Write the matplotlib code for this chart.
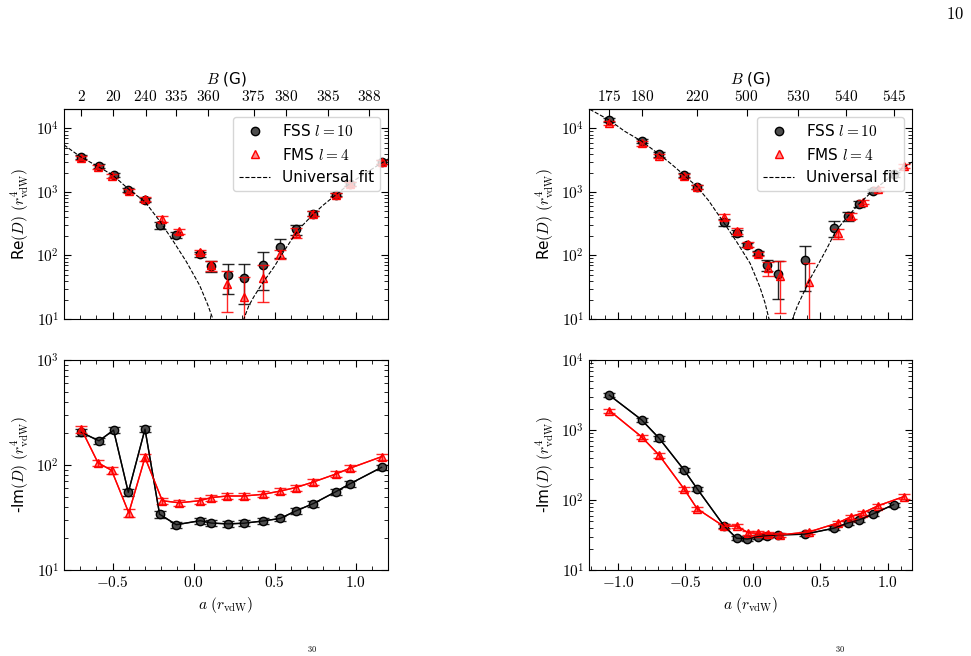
import numpy as np
import matplotlib
matplotlib.use('Agg')
import matplotlib.pyplot as plt
from matplotlib.ticker import FuncFormatter, NullFormatter, LogLocator, MultipleLocator
from matplotlib.lines import Line2D

plt.rcParams['font.family'] = ['DejaVu Sans']
plt.rcParams['mathtext.fontset'] = 'cm'
plt.rcParams['font.size'] = 11

# ---- left column (B = 2 ... 388 G) ----
left_a_fss = [-0.693, -0.584, -0.494, -0.403, -0.30, -0.21, -0.107, 0.041, 0.109, 0.212,
              0.31, 0.428, 0.535, 0.63, 0.74, 0.877, 0.963, 1.16]
left_a_fms = [-0.693, -0.59, -0.506, -0.40, -0.30, -0.193, -0.09, 0.037, 0.109, 0.208,
              0.31, 0.428, 0.535, 0.63, 0.74, 0.877, 0.963, 1.16]
left_re_fss = [3500, 2550, 1850, 1080, 760, 300, 210, 104, 69, 49, 45, 71, 137, 258, 457, 910, 1350, 3000]
left_re_fss_err = [250, 180, 130, 80, 55, 35, 22, 8, 14, 24, 28, 42, 45, 45, 40, 60, 90, 200]
left_re_fms = [3400, 2500, 1800, 1050, 770, 380, 240, 115, 70, 35, 22.4, 44.7, 106, 228, 455, 900, 1330, 2950]
left_re_fms_err = [250, 180, 130, 80, 55, 40, 22, 8, 13, 22, 23, 26, 18, 40, 40, 60, 90, 200]
left_im_fss = [205, 170, 215, 55, 220, 34, 27, 29.5, 28, 27.5, 27.9, 29.3, 31, 36.5, 43, 55.6, 66, 95]
left_im_fss_err = [14, 10, 13, 4, 14, 2.5, 1.8, 2, 1.8, 1.8, 1.8, 2, 2, 2.4, 2.8, 3.6, 4.3, 6]
left_im_fms = [220, 105, 89, 35, 118, 45.7, 43.7, 45.7, 49, 50.7, 50.7, 52.6, 56.5, 61, 69, 82, 93, 120]
left_im_fms_err = [18, 7, 6, 3, 9, 3, 3, 3, 3.2, 3.3, 3.3, 3.4, 3.7, 4, 4.5, 5.3, 6, 8]
# universal fit (two branches)
left_fit1_a = [-0.80, -0.70, -0.60, -0.50, -0.40, -0.30, -0.21, -0.13, -0.045, 0.037, 0.088, 0.119, 0.13]
left_fit1_d = [5500, 3600, 2600, 1850, 1100, 700, 350, 175, 80, 34, 16.6, 10, 7]
left_fit2_a = [0.295, 0.31, 0.34, 0.37, 0.41, 0.45, 0.50, 0.54, 0.60, 0.65, 0.74, 0.80, 0.88, 0.96, 1.05, 1.20]
left_fit2_d = [5, 10, 16, 22, 32, 45, 68, 100, 170, 260, 450, 620, 910, 1330, 1900, 3300]
left_b_pos = [-0.693, -0.498, -0.296, -0.107, 0.088, 0.370, 0.572, 0.829, 1.082]
left_b_lab = ['2', '20', '240', '335', '360', '375', '380', '385', '388']

# ---- right column (B = 175 ... 545 G) ----
right_a_fss = [-1.064, -0.825, -0.694, -0.511, -0.413, -0.215, -0.121, -0.04, 0.035, 0.108,
               0.19, 0.385, 0.60, 0.706, 0.787, 0.89, 1.044]
right_a_fms = [-1.064, -0.825, -0.694, -0.511, -0.413, -0.215, -0.121, -0.035, 0.04, 0.113,
               0.2, 0.417, 0.63, 0.73, 0.82, 0.93, 1.12]
right_re_fss = [13500, 6300, 3900, 1850, 1210, 335, 224, 146, 109, 70.5, 52, 85, 268, 415, 650, 1040, 1900]
right_re_fss_err = [1100, 500, 300, 140, 90, 40, 25, 12, 8, 13, 31, 57, 75, 60, 60, 80, 150]
right_re_fms = [12200, 5800, 3700, 1800, 1200, 407, 245, 150, 107, 63, 47.5, 38.8, 223, 420, 700, 1100, 2570]
right_re_fms_err = [1000, 450, 280, 130, 90, 45, 25, 12, 8, 15, 35, 36, 40, 50, 60, 80, 180]
right_im_fss = [3150, 1400, 760, 270, 145, 43, 28.5, 27.7, 30, 31, 31.7, 32.5, 39.5, 47, 52, 63, 86]
right_im_fss_err = [220, 100, 55, 20, 10, 3, 2, 2, 2, 2, 2, 2.3, 2.8, 3.3, 3.6, 4.4, 6]
right_im_fms = [1900, 800, 435, 145, 75, 42, 42.7, 34, 33.5, 33, 31.7, 35, 47, 58, 66, 83, 112]
right_im_fms_err = [130, 55, 30, 10, 5, 3, 3, 2.4, 2.3, 2.3, 2.2, 2.5, 3.3, 4, 4.6, 5.8, 8]
right_fit1_a = [-1.21, -1.064, -0.95, -0.825, -0.694, -0.60, -0.511, -0.413, -0.33, -0.22, -0.12,
                -0.02, 0.052, 0.09, 0.12, 0.13]
right_fit1_d = [20000, 13500, 9000, 6300, 3900, 2700, 1850, 1200, 740, 340, 164, 75, 32, 18, 10, 7]
right_fit2_a = [0.28, 0.294, 0.33, 0.373, 0.43, 0.496, 0.55, 0.60, 0.65, 0.706, 0.787, 0.89, 1.0, 1.1, 1.18]
right_fit2_d = [6, 10, 16, 25, 45, 80, 130, 210, 300, 415, 650, 1040, 1600, 2300, 2950]
right_b_pos = [-1.064, -0.824, -0.412, -0.047, 0.336, 0.694, 1.044]
right_b_lab = ['175', '180', '220', '500', '530', '540', '545']

fss_style = dict(marker='o', ms=6, mfc='0.3', mec='k', color='k')
fms_style = dict(marker='^', ms=6, mfc=(1, 0, 0, 0.45), mec='red', color='red')
err_kw = dict(elinewidth=1, capsize=4, capthick=1, alpha=0.85)

logfmt = FuncFormatter(lambda v, p: '$10^{%d}$' % round(np.log10(v)))
linfmt = FuncFormatter(lambda v, p: '$%.1f$' % v)


def style_axis(ax, xlim, ylim, top=True):
    ax.set_yscale('log')
    ax.set_xlim(xlim)
    ax.set_ylim(ylim)
    ax.yaxis.set_major_locator(LogLocator(base=10, numticks=10))
    ax.yaxis.set_minor_locator(LogLocator(base=10, subs=np.arange(2, 10), numticks=10))
    ax.yaxis.set_major_formatter(logfmt)
    ax.yaxis.set_minor_formatter(NullFormatter())
    ax.xaxis.set_major_locator(MultipleLocator(0.5))
    ax.xaxis.set_minor_locator(MultipleLocator(0.1))
    ax.xaxis.set_major_formatter(linfmt)
    ax.tick_params(which='both', direction='in', right=True, top=top)
    ax.tick_params(which='major', length=5)
    ax.tick_params(which='minor', length=3)


def re_panel(ax, a1, d1, e1, a2, d2, e2, f1a, f1d, f2a, f2d, bpos, blab, xlim):
    ax.errorbar(a1, d1, yerr=e1, fmt='none', ecolor='k', **err_kw)
    ax.plot(a1, d1, ls='none', **fss_style)
    ax.errorbar(a2, d2, yerr=e2, fmt='none', ecolor='red', **err_kw)
    ax.plot(a2, d2, ls='none', **fms_style)
    ax.plot(f1a, f1d, 'k--', lw=0.8)
    ax.plot(f2a, f2d, 'k--', lw=0.8)
    style_axis(ax, xlim, (10, 2e4), top=False)
    ax.tick_params(labelbottom=False)
    ax.set_ylabel(r'Re$(D)$ $(r^4_{\rm vdW})$')
    sec = ax.secondary_xaxis('top')
    sec.set_xticks(bpos, labels=['$%s$' % s for s in blab])
    sec.tick_params(direction='in', length=5)
    sec.set_xlabel('$B$ (G)')
    handles = [Line2D([], [], ls='none', **fss_style),
               Line2D([], [], ls='none', **fms_style),
               Line2D([], [], color='k', ls='--', lw=0.8)]
    ax.legend(handles, [r'FSS $l=10$', r'FMS $l=4$', 'Universal fit'],
              loc='upper right', framealpha=0.8, edgecolor='0.8', fontsize=11)


def im_panel(ax, a1, d1, e1, a2, d2, e2, xlim, ylim):
    ax.errorbar(a1, d1, yerr=e1, color='k', lw=1, **err_kw)
    ax.plot(a1, d1, ls='-', lw=1, **fss_style)
    ax.errorbar(a2, d2, yerr=e2, color='red', lw=1, **err_kw)
    ax.plot(a2, d2, ls='-', lw=1, **fms_style)
    style_axis(ax, xlim, ylim)
    ax.set_ylabel(r'-Im$(D)$ $(r^4_{\rm vdW})$')
    ax.set_xlabel(r'$a\ (r_{\rm vdW})$')


fig = plt.figure(figsize=(9.71, 6.56), dpi=100)

ax1 = fig.add_axes([0.0659, 0.5137, 0.3337, 0.3197])
ax2 = fig.add_axes([0.0659, 0.1311, 0.3337, 0.3200])
ax3 = fig.add_axes([0.6066, 0.5137, 0.3326, 0.3197])
ax4 = fig.add_axes([0.6066, 0.1311, 0.3326, 0.3200])

re_panel(ax1, left_a_fss, left_re_fss, left_re_fss_err, left_a_fms, left_re_fms, left_re_fms_err,
         left_fit1_a, left_fit1_d, left_fit2_a, left_fit2_d, left_b_pos, left_b_lab, (-0.8, 1.2))
im_panel(ax2, left_a_fss, left_im_fss, left_im_fss_err, left_a_fms, left_im_fms, left_im_fms_err,
         (-0.8, 1.2), (10, 1000))
re_panel(ax3, right_a_fss, right_re_fss, right_re_fss_err, right_a_fms, right_re_fms, right_re_fms_err,
         right_fit1_a, right_fit1_d, right_fit2_a, right_fit2_d, right_b_pos, right_b_lab, (-1.215, 1.18))
im_panel(ax4, right_a_fss, right_im_fss, right_im_fss_err, right_a_fms, right_im_fms, right_im_fms_err,
         (-1.215, 1.18), (10, 1e4))

# page number and the bits of the next text line at the bottom edge
fig.text(0.9835, 0.979, '$10$', ha='center', va='center', fontsize=12)
fig.text(312 / 971, 0.003, '$30$', ha='center', va='bottom', fontsize=6)
fig.text(840 / 971, 0.003, '$30$', ha='center', va='bottom', fontsize=6)

fig.savefig('out.png', dpi=100)
